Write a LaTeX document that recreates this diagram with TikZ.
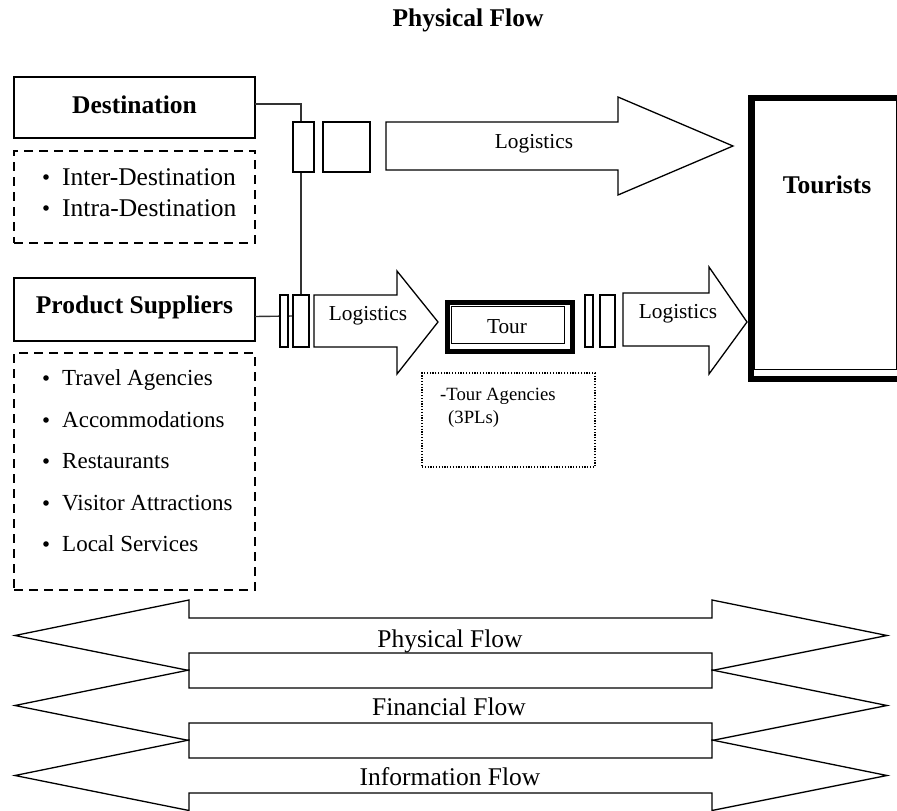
\documentclass[tikz,border=0pt]{standalone}
\usepackage{fontspec}
\setmainfont{Liberation Serif}
\begin{document}
\begin{tikzpicture}[x=1pt,y=-1pt,
  box/.style={draw, line width=1.2pt, fill=white, inner sep=0pt, outer sep=0pt, anchor=north west},
  dashbox/.style={draw, line width=1.3pt, dash pattern=on 9pt off 6pt, inner sep=0pt, outer sep=0pt, anchor=north west},
  dotbox/.style={draw, line width=1.1pt, dash pattern=on 1.2pt off 1.6pt, inner sep=0pt, outer sep=0pt, anchor=north west},
  blockarrow/.style={draw, fill=white, line width=1.3pt, line join=miter},
  link/.style={draw=black!80, line width=1.4pt},
  hd/.style={font=\fontsize{25.5}{30}\selectfont\bfseries, anchor=base, inner sep=0pt},
  itemA/.style={font=\fontsize{25.5}{30}\selectfont, anchor=base west, inner sep=0pt},
  itemB/.style={font=\fontsize{23}{28}\selectfont, anchor=base west, inner sep=0pt},
  logi/.style={font=\fontsize{21.3}{25}\selectfont, anchor=base, inner sep=0pt},
  small/.style={font=\fontsize{18.7}{22}\selectfont, anchor=base west, inner sep=0pt},
  flow/.style={font=\fontsize{25.5}{30}\selectfont, anchor=base, inner sep=0pt},
  dot/.style={fill=black, circle, inner sep=0pt, minimum size=5.6pt}
]
\useasboundingbox (0,0) rectangle (897,811);

% title
\node[hd] (title) at (468,26) {Physical Flow};

% left-hand boxes
\node[box, minimum width=241pt, minimum height=61pt] (dest) at (14,77) {};
\node[hd] (destlbl) at (134.5,113) {Destination};
\node[dashbox, minimum width=241pt, minimum height=92pt] (destlist) at (14,151) {};
\foreach \t/\b [count=\i] in {Inter-Destination/185, Intra-Destination/216} {
  \node[dot] (db\i) at (46,\b-8) {};
  \node[itemA] (dt\i) at (62,\b) {\t};
}

\node[box, minimum width=241pt, minimum height=63pt] (ps) at (14,278) {};
\node[hd] (pslbl) at (134.5,313) {Product Suppliers};
\node[dashbox, minimum width=241pt, minimum height=237pt] (pslist) at (14,353) {};
\foreach \t/\b [count=\i] in {Travel Agencies/385, Accommodations/427, Restaurants/468, Visitor Attractions/510, Local Services/551} {
  \node[dot] (pb\i) at (46,\b-7) {};
  \node[itemB] (pt\i) at (62,\b) {\t};
}

% connector lines (drawn under the small blocks)
\coordinate (psout) at ([yshift=-7pt]ps.east);
\draw[link] (dest.east |- 0,104) -| (301,295);
\draw[link] (psout) -- (293,316);

% small blocks
\node[box, minimum width=21pt, minimum height=50pt] (r1) at (293,122) {};
\node[box, minimum width=47pt, minimum height=50pt] (r2) at (323,122) {};
\node[box, minimum width=8pt, minimum height=52pt] (r3) at (280,295) {};
\node[box, minimum width=16pt, minimum height=52pt] (r4) at (293,295) {};
\node[box, minimum width=8pt, minimum height=52pt] (r5) at (585,295) {};
\node[box, minimum width=15pt, minimum height=52pt] (r6) at (600,295) {};

% logistics arrows
\draw[blockarrow] (386,122) -- (618,122) -- (618,97) -- (733,146) -- (618,195) -- (618,170) -- (386,170) -- cycle;
\node[logi] (log1) at (534,148) {Logistics};
\draw[blockarrow] (314,295) -- (397,295) -- (397,271) -- (438,322) -- (397,374) -- (397,347) -- (314,347) -- cycle;
\node[logi] (log2) at (368,320) {Logistics};
\draw[blockarrow] (623,293) -- (709,293) -- (709,267) -- (747,322) -- (709,374) -- (709,346) -- (623,346) -- cycle;
\node[logi] (log3) at (678,318) {Logistics};

% tour box
\node[draw, line width=5pt, inner sep=0pt, anchor=north west, minimum width=125pt, minimum height=49pt] (tour) at (444.5,299.5) {};
\node[draw, line width=1.2pt, inner sep=0pt, anchor=north west, minimum width=113pt, minimum height=37pt] (tourin) at (450.5,305.5) {};
\node[logi] (tourlbl) at (507,333) {Tour};
\node[dotbox, minimum width=173pt, minimum height=94pt] (agency) at (422,373) {};
\node[small] (ag1) at (440,400) {-Tour Agencies};
\node[small] (ag2) at (448,423) {(3PLs)};

% tourists box
\node[draw, line width=6pt, inner sep=0pt, anchor=north west, minimum width=153pt, minimum height=281pt] (tourists) at (748,95) {};
\node[draw, line width=1.2pt, inner sep=0pt, anchor=north west, minimum width=142pt, minimum height=269pt] (touristsin) at (754,100) {};
\node[hd] (touristslbl) at (827,193) {Tourists};

% flow arrows along the bottom
\foreach \d in {0,70,140} {
  \draw[blockarrow] (15,635.5+\d) -- (189,600+\d) -- (189,618+\d) -- (712,618+\d) -- (712,600+\d)
    -- (887,635.5+\d) -- (712,670.5+\d) -- (712,653+\d) -- (189,653+\d) -- (189,670.5+\d) -- cycle;
}
\node[flow] (f1) at (450,647) {Physical Flow};
\node[flow] (f2) at (449,715) {Financial Flow};
\node[flow] (f3) at (450,785) {Information Flow};
\end{tikzpicture}
\end{document}
